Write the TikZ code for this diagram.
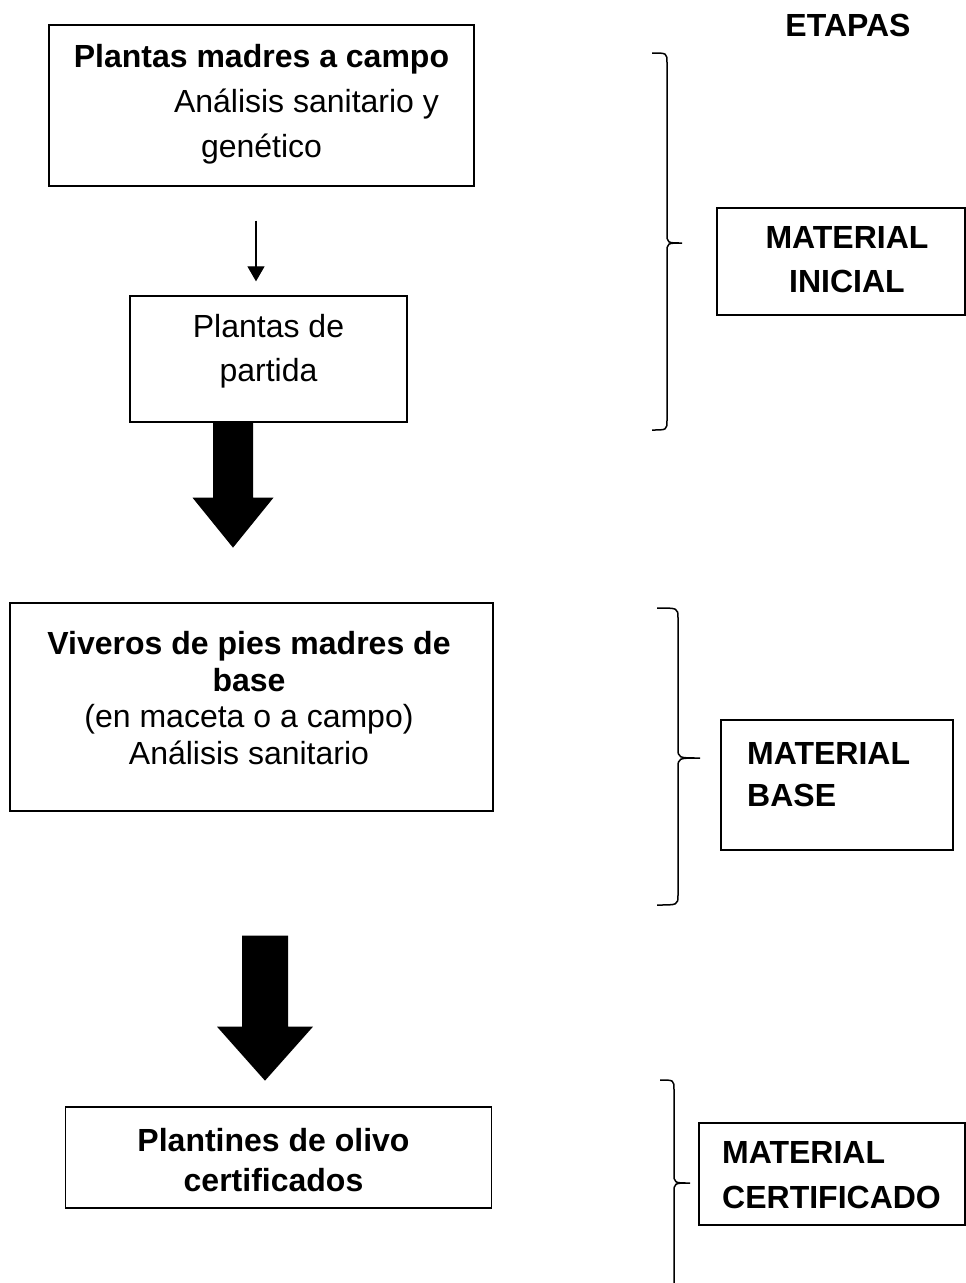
\documentclass[tikz,border=0pt]{standalone}
\usepackage{fontspec}
\setmainfont{Liberation Sans}
\usetikzlibrary{arrows.meta}
\begin{document}
\begin{tikzpicture}[x=1pt,y=-1pt,
  caja/.style={draw, line width=1.3pt, inner sep=0pt},
  texto/.style={align=center, inner sep=0pt},
  llave/.style={line width=1.5pt},
]
\useasboundingbox (0,0) rectangle (966,1283);
\coordinate (ejeA) at (256,0);

% columna izquierda
\node[caja, minimum width=425pt, minimum height=161pt] (madres) at (261.5,105.5) {};
\node[texto, font=\fontsize{32}{45}\selectfont] (madrestxt) at (261.5,104.5) {\textbf{Plantas madres a campo}\\\hspace*{90pt}Análisis sanitario y\\genético};
\node[caja, minimum width=277pt, minimum height=126pt] (partida) at (268.5,359) {};
\node[texto, font=\fontsize{32}{44}\selectfont] (partidatxt) at (268.5,351.5) {Plantas de\\partida};
\node[caja, minimum width=483pt, minimum height=208pt] (viveros) at (251.5,707) {};
\node[texto, font=\fontsize{32}{36.5}\selectfont] (viverostxt) at (249,698) {\textbf{Viveros de pies madres de}\\\textbf{base}\\(en maceta o a campo)\\Análisis sanitario};
\node[caja, minimum width=426pt, minimum height=101pt] (plantines) at (278.5,1157.5) {};
\node[texto, font=\bfseries\fontsize{32}{40}\selectfont] (plantinestxt) at (273.5,1160.5) {Plantines de olivo\\certificados};

% flechas
\draw[line width=1.2pt, -{Triangle[length=15pt,width=17pt]}, shorten <=34pt, shorten >=14pt] (madres.south -| ejeA) -- (partida.north -| ejeA);
\fill ([xshift=-35.5pt]partida.south) ++(-20,0) -- ++(40,0) -- ++(0,75) -- ++(20.5,0) -- ++(-40.5,50) -- ++(-40.5,-50) -- ++(20.5,0) -- cycle;
\fill ([xshift=13.5pt,yshift=-124pt]viveros.south) ++(-23,0) -- ++(46,0) -- ++(0,91) -- ++(25,0) -- ++(-48,54) -- ++(-48,-54) -- ++(25,0) -- cycle;

% etapas
\node[texto, font=\bfseries\fontsize{32}{40}\selectfont] (etapas) at (848,25) {ETAPAS};
\node[caja, minimum width=248pt, minimum height=107pt] (inicial) at (841,261.5) {};
\node[texto, font=\bfseries\fontsize{32}{44}\selectfont] (inicialtxt) at (847,260) {MATERIAL\\INICIAL};
\node[caja, minimum width=232pt, minimum height=130pt] (base) at (837,785) {};
\node[texto, align=left, anchor=west, font=\bfseries\fontsize{32}{42}\selectfont] (basetxt) at (747,775) {MATERIAL\\BASE};
\node[caja, minimum width=266pt, minimum height=102pt] (certificado) at (832,1174) {};
\node[texto, align=left, anchor=west, font=\bfseries\fontsize{32}{45}\selectfont] (certificadotxt) at (722,1175) {MATERIAL\\CERTIFICADO};

% llaves
\draw[llave] (652,53) .. controls (667,53) .. (667,63) -- (667,233) .. controls (667,243) .. (682,243) .. controls (667,243) .. (667,253) -- (667,420) .. controls (667,430) .. (652,430);
\draw[llave] (657,608) .. controls (678,608) .. (678,618) -- (678,748) .. controls (678,758) .. (700,758) .. controls (678,758) .. (678,768) -- (678,895) .. controls (678,905) .. (657,905);
\draw[llave] (660,1080) .. controls (674,1080) .. (674,1090) -- (674,1173) .. controls (674,1183) .. (690,1183) .. controls (674,1183) .. (674,1193) -- (674,1283);
\end{tikzpicture}
\end{document}
